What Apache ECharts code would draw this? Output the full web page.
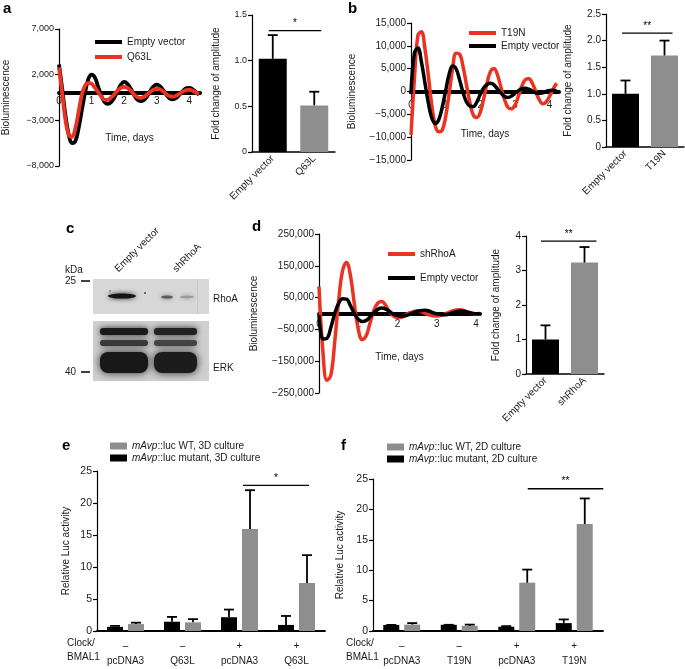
<!DOCTYPE html>
<html><head><meta charset="utf-8">
<script src="https://cdn.jsdelivr.net/npm/echarts@6.0.0/dist/echarts.min.js"></script>
<style>html,body{margin:0;padding:0;background:#fff}#c{width:685px;height:669px}</style>
</head><body><div id="c"></div>
<script>
// ---------- DATA ----------
const timeA = [0,0.1,0.2,0.3,0.4,0.5,0.6,0.7,0.8,0.9,1.0,1.1,1.2,1.3,1.4,1.5,1.6,1.7,1.8,1.9,2.0,2.1,2.2,2.3,2.4,2.5,2.6,2.7,2.8,2.9,3.0,3.1,3.2,3.3,3.4,3.5,3.6,3.7,3.8,3.9,4.0,4.1,4.2,4.3];
const emptyA = [3100,400,-2500,-4600,-5500,-5300,-3900,-1900,0,1500,2000,1700,700,-300,-1000,-1200,-1000,-500,200,900,1200,1000,500,-200,-700,-900,-800,-400,200,700,900,750,300,-200,-600,-700,-550,-200,200,500,550,400,100,-200];
const q63lA = [2800,-100,-3000,-4600,-4800,-3900,-2100,-200,800,1100,1000,600,100,-400,-750,-750,-500,-150,250,550,650,550,250,-150,-450,-550,-450,-200,100,350,450,400,150,-150,-350,-400,-300,-100,150,300,350,250,50,-100];

const timeB = [0,0.1,0.2,0.3,0.4,0.5,0.6,0.7,0.8,0.9,1.0,1.1,1.2,1.3,1.4,1.5,1.6,1.7,1.8,1.9,2.0,2.1,2.2,2.3,2.4,2.5,2.6,2.7,2.8,2.9,3.0,3.1,3.2,3.3,3.4,3.5,3.6,3.7,3.8,3.9,4.0,4.1,4.2];
const t19nB = [-9500,3000,12300,13100,9500,3500,-3000,-7500,-8800,-8500,-5500,-500,5000,8400,8200,5500,1500,-2500,-5200,-5700,-4500,-1500,2000,4500,5000,3500,800,-1800,-3500,-3800,-3000,-1000,1200,2600,2800,1800,0,-1800,-2700,-2300,-1000,500,1800];
const emptyB = [-500,8500,9500,6500,2000,-2500,-5800,-7000,-6200,-3500,200,3800,5600,5000,2600,-200,-2300,-3200,-3300,-2300,-600,800,1600,1800,1400,500,-400,-1100,-1300,-1000,-400,200,600,700,500,100,-300,-400,-300,0,200,250,100];

const timeD = [0,0.1,0.2,0.3,0.4,0.5,0.6,0.7,0.8,0.9,1.0,1.1,1.2,1.3,1.4,1.5,1.6,1.7,1.8,1.9,2.0,2.1,2.2,2.3,2.4,2.5,2.6,2.7,2.8,2.9,3.0,3.1,3.2,3.3,3.4,3.5,3.6,3.7,3.8,3.9,4.0,4.1];
const shRhoAD = [85000,-120000,-210000,-195000,-90000,40000,135000,160000,120000,30000,-50000,-82000,-70000,-30000,10000,33000,38000,25000,5000,-8000,-13000,-12000,-5000,2000,6000,8000,6000,1000,-4000,-7000,-8000,-6000,-2000,3000,8000,11000,12000,9000,4000,0,-2000,-1000];
const emptyD = [-5000,-80000,-78000,-45000,0,32000,46000,45000,25000,0,-18000,-25000,-22000,-10000,3000,13000,17000,14000,6000,-2000,-6000,-8000,-7000,-3000,2000,7000,9000,10000,8000,3000,-1000,-3000,-4000,-2000,2000,6000,8000,7000,4000,1000,-1000,0];

const ampCatsA = ['Empty vector','Q63L'];
const ampMeanA = [1.02, 0.51];
const ampErrA  = [1.28, 0.66];
const sigA = [[0,1,1.33]];

const ampCatsB = ['Empty vector','T19N'];
const ampMeanB = [1.0, 1.72];
const ampErrB  = [1.25, 2.0];
const sigB = [[0,1,2.14]];

const ampCatsD = ['Empty vector','shRhoA'];
const ampMeanD = [1.0, 3.23];
const ampErrD  = [1.41, 3.68];
const sigD = [[0,1,3.85]];

const catsE = ['pcDNA3','Q63L','pcDNA3','Q63L'];
const clockE = ['–','–','+','+'];
const mutE = [0.65, 1.45, 2.15, 0.95];
const mutErrE = [0.8, 2.2, 3.35, 2.35];
const wtE = [1.08, 1.35, 15.95, 7.5];
const wtErrE = [1.3, 1.85, 22.0, 11.85];
const sigE = [[2,3,22.75]];

const catsF = ['pcDNA3','T19N','pcDNA3','T19N'];
const clockF = ['–','–','+','+'];
const mutF = [1.0, 1.02, 0.7, 1.3];
const mutErrF = [1.0, 1.02, 0.8, 1.9];
const wtF = [1.05, 0.85, 7.95, 17.6];
const wtErrF = [1.3, 1.05, 10.1, 21.8];
const sigF = [[2,3,23.4]];

// ---------- STYLE / HELPERS ----------
const FONT = 'Liberation Sans, Arial, Helvetica, sans-serif';
const TXT = '#1a1a1a';
const RED = '#ea3323';
const GREY = '#8e8e8e';

const GRIDS = [
  {left:55, top:29, width:145, height:137},
  {left:252, top:15, width:83, height:137},
  {left:411, top:23, width:148, height:137},
  {left:606, top:14, width:78, height:133},
  {left:319, top:234, width:161, height:159},
  {left:526, top:236, width:78, height:138},
  {left:97, top:471, width:228, height:162},
  {left:373, top:479, width:230, height:153}
];

function commaFmt(v){ const s = Math.abs(v).toLocaleString('en-US'); return (v<0?'\u2212':'') + s; }
function dec1(v){ return v===0 ? '0' : v.toFixed(1); }
function intFmt(v){ return String(v); }

function yVal(grid, min, max, interval, fmt, fs, name, gap){
  return {type:'value', gridIndex:grid, min:min, max:max, interval:interval,
    name:name, nameLocation:'middle', nameGap:gap, nameRotate:90,
    nameTextStyle:{fontSize:10, color:TXT, fontFamily:FONT},
    axisLine:{show:true, onZero:false, lineStyle:{color:'#000', width:1.2}},
    axisTick:{show:true, length:4, lineStyle:{color:'#000', width:1.2}},
    axisLabel:{fontSize:fs, color:TXT, margin:5, fontFamily:FONT, formatter:fmt},
    splitLine:{show:false}};
}
// time axis placed at the y=0 level of its grid (offset derived from y-range)
function xTime(grid, max, ymin, ymax, margin, gap){
  const h = GRIDS[grid].height;
  const off = -((0 - ymin) / (ymax - ymin)) * h;
  return {type:'value', gridIndex:grid, min:0, max:max, interval:1, offset:off,
    name:'Time, days', nameLocation:'middle', nameGap:gap,
    nameTextStyle:{fontSize:10, color:TXT, fontFamily:FONT},
    axisLine:{show:true, onZero:false, lineStyle:{color:'#000', width:4}},
    axisTick:{show:false},
    axisLabel:{fontSize:10, color:TXT, margin:margin, fontFamily:FONT,
      formatter:function(v){ return Math.abs(v-Math.round(v))<1e-6 ? String(Math.round(v)) : ''; }},
    splitLine:{show:false}};
}
function xCatRot(grid, cats){
  return {type:'category', gridIndex:grid, data:cats,
    axisLine:{show:true, lineStyle:{color:'#000', width:1.5}},
    axisTick:{show:false},
    axisLabel:{rotate:45, fontSize:10, color:TXT, margin:5, fontFamily:FONT, interval:0}};
}
function xCatGroup(grid, cats, signs){
  return {type:'category', gridIndex:grid, data:cats,
    axisLine:{show:true, lineStyle:{color:'#000', width:1.8}},
    axisTick:{show:false},
    axisLabel:{fontSize:10, color:TXT, margin:8, lineHeight:15, fontFamily:FONT, interval:0,
      formatter:function(v,i){ return signs[i] + '\n' + v; }}};
}
function pairs(t, v){ return t.map(function(x,i){ return [x, v[i]]; }); }
function lineSeries(name, color, grid, t, v, w){
  return {name:name, type:'line', xAxisIndex:grid, yAxisIndex:grid, data:pairs(t,v),
    smooth:0.4, showSymbol:false, symbol:'none', color:color,
    lineStyle:{color:color, width:w}, z:3};
}
function errRender(offset, cap){
  return function(params, api){
    const x = api.value(0);
    const p0 = api.coord([x, api.value(1)]);
    const p1 = api.coord([x, api.value(2)]);
    const cx = p0[0] + offset;
    return {type:'group', children:[
      {type:'line', shape:{x1:cx, y1:p0[1], x2:cx, y2:p1[1]}, style:{stroke:'#000', lineWidth:1.8}},
      {type:'line', shape:{x1:cx-cap, y1:p1[1], x2:cx+cap, y2:p1[1]}, style:{stroke:'#000', lineWidth:1.8}}
    ]};
  };
}
function errSeries(grid, means, errs, offset, cap){
  return {type:'custom', xAxisIndex:grid, yAxisIndex:grid, clip:false, z:4,
    data: means.map(function(m,i){ return [i, m, errs[i]]; }),
    encode:{x:0, y:[1,2]}, renderItem:errRender(offset, cap), silent:true};
}
function sigSeries(grid, data, off1, off2, label){
  return {type:'custom', xAxisIndex:grid, yAxisIndex:grid, clip:false, z:4, data:data,
    encode:{x:[0,1], y:2}, silent:true,
    renderItem:function(params, api){
      const a = api.coord([api.value(0), api.value(2)]);
      const b = api.coord([api.value(1), api.value(2)]);
      const x1 = a[0]+off1, x2 = b[0]+off2;
      return {type:'group', children:[
        {type:'line', shape:{x1:x1, y1:a[1], x2:x2, y2:a[1]}, style:{stroke:'#000', lineWidth:1.3}},
        {type:'text', x:(x1+x2)/2, y:a[1]-2, style:{text:label, align:'center', verticalAlign:'bottom', fontSize:10, fill:'#000', fontFamily:FONT}}
      ]};
    }};
}
function barSeries(name, grid, vals, color, width, gap){
  const s = {name:name, type:'bar', xAxisIndex:grid, yAxisIndex:grid, data:vals,
    barWidth:width, itemStyle:{color:color}, z:2};
  if (gap) s.barGap = gap;
  return s;
}
function legendLine(names, left, top, gap){
  return {data:names, left:left, top:top, orient:'vertical', icon:'rect',
    itemWidth:27, itemHeight:4, itemGap:gap, selectedMode:false,
    textStyle:{fontSize:10, color:TXT, fontFamily:FONT}};
}
function legendBox(names, left, top){
  return {data:names, left:left, top:top, orient:'vertical', icon:'rect',
    itemWidth:17, itemHeight:7, itemGap:2, selectedMode:false,
    formatter:function(n){ return n.replace('mAvp', '{i|mAvp}'); },
    textStyle:{fontSize:10, color:TXT, fontFamily:FONT,
      rich:{i:{fontStyle:'italic', fontSize:10, color:TXT, fontFamily:FONT}}}};
}

const nameWT3 = 'mAvp::luc WT, 3D culture', nameMut3 = 'mAvp::luc mutant, 3D culture';
const nameWT2 = 'mAvp::luc WT, 2D culture', nameMut2 = 'mAvp::luc mutant, 2D culture';

function txt(x, y, s, opt){
  return Object.assign({type:'text', x:x, y:y, silent:true,
    style:Object.assign({text:s, fontSize:10, fill:TXT, fontFamily:FONT, align:'left', verticalAlign:'middle'}, opt||{})});
}
function letter(x, y, s){ return txt(x, y, s, {fontSize:15, fontWeight:'bold', fill:'#000'}); }

const blot = [
  {type:'rect', silent:true, shape:{x:93, y:279, width:116, height:35}, style:{fill:'#d7d7d7'}},
  {type:'rect', silent:true, shape:{x:197, y:279, width:1, height:35}, style:{fill:'#cacaca'}},
  {type:'ellipse', silent:true, shape:{cx:122, cy:296, rx:14, ry:2.6}, style:{fill:'#141414', shadowBlur:5, shadowColor:'rgba(0,0,0,0.8)'}},
  {type:'ellipse', silent:true, shape:{cx:167, cy:297, rx:6, ry:1.6}, style:{fill:'#5a5a5a', shadowBlur:4, shadowColor:'rgba(0,0,0,0.5)'}},
  {type:'ellipse', silent:true, shape:{cx:187, cy:297, rx:7, ry:1.2}, style:{fill:'#9a9a9a', shadowBlur:4, shadowColor:'rgba(0,0,0,0.3)'}},
  {type:'circle', silent:true, shape:{cx:110, cy:291, r:0.8}, style:{fill:'#555'}},
  {type:'circle', silent:true, shape:{cx:145, cy:293, r:1}, style:{fill:'#444'}},
  {type:'rect', silent:true, shape:{x:93, y:321, width:116, height:60}, style:{fill:'#cfcfcf'}},
  {type:'rect', silent:true, shape:{x:100, y:328, width:48, height:7, r:3}, style:{fill:'#1a1a1a', shadowBlur:6, shadowColor:'rgba(0,0,0,0.8)'}},
  {type:'rect', silent:true, shape:{x:154, y:328, width:43, height:7, r:3}, style:{fill:'#222', shadowBlur:6, shadowColor:'rgba(0,0,0,0.8)'}},
  {type:'rect', silent:true, shape:{x:100, y:340, width:48, height:6, r:3}, style:{fill:'#3a3a3a', shadowBlur:6, shadowColor:'rgba(0,0,0,0.6)'}},
  {type:'rect', silent:true, shape:{x:154, y:340, width:43, height:6, r:3}, style:{fill:'#444', shadowBlur:6, shadowColor:'rgba(0,0,0,0.6)'}},
  {type:'rect', silent:true, shape:{x:100, y:352, width:48, height:21, r:8}, style:{fill:'#181818', shadowBlur:8, shadowColor:'rgba(0,0,0,0.8)'}},
  {type:'rect', silent:true, shape:{x:154, y:352, width:43, height:21, r:8}, style:{fill:'#1c1c1c', shadowBlur:8, shadowColor:'rgba(0,0,0,0.8)'}},
  txt(65, 270, 'kDa', {fontSize:10}),
  txt(65, 281, '25', {fontSize:10}),
  {type:'line', silent:true, shape:{x1:81, y1:281, x2:90, y2:281}, style:{stroke:'#000', lineWidth:1.5}},
  txt(65, 372, '40', {fontSize:10}),
  {type:'line', silent:true, shape:{x1:81, y1:372, x2:90, y2:372}, style:{stroke:'#000', lineWidth:1.5}},
  txt(213, 299, 'RhoA', {fontSize:10}),
  txt(213, 368, 'ERK', {fontSize:10}),
  {type:'text', silent:true, x:120, y:274, rotation:Math.PI/4, style:{text:'Empty vector', fontSize:10, fill:TXT, fontFamily:FONT, align:'left', verticalAlign:'bottom'}},
  {type:'text', silent:true, x:178, y:274, rotation:Math.PI/4, style:{text:'shRhoA', fontSize:10, fill:TXT, fontFamily:FONT, align:'left', verticalAlign:'bottom'}}
];

const option = {
  animation:false,
  backgroundColor:'#fff',
  textStyle:{fontFamily:FONT},
  grid:GRIDS,
  xAxis:[
    xTime(0, 4.33, -8000, 7000, 3, 40),
    xCatRot(1, ampCatsA),
    xTime(2, 4.27, -15000, 15000, 9, 38),
    xCatRot(3, ampCatsB),
    xTime(4, 4.1, -250000, 250000, 6, 39),
    xCatRot(5, ampCatsD),
    xCatGroup(6, catsE, clockE),
    xCatGroup(7, catsF, clockF)
  ],
  yAxis:[
    yVal(0, -8000, 7000, 5000, commaFmt, 9, 'Bioluminescence', 48),
    yVal(1, 0, 1.5, 0.5, dec1, 9, 'Fold change of amplitude', 31),
    yVal(2, -15000, 15000, 5000, commaFmt, 10, 'Bioluminescence', 54),
    yVal(3, 0, 2.5, 0.5, dec1, 10, 'Fold change of amplitude', 33),
    yVal(4, -250000, 250000, 100000, commaFmt, 10, 'Bioluminescence', 60),
    yVal(5, 0, 4, 1, intFmt, 10, 'Fold change of amplitude', 25),
    yVal(6, 0, 25, 5, intFmt, 10.5, 'Relative Luc activity', 26),
    yVal(7, 0, 25, 5, intFmt, 10.5, 'Relative Luc activity', 28)
  ],
  legend:[
    legendLine(['Empty vector','Q63L'], 90, 32, 5),
    legendLine(['T19N','Empty vector'], 464, 23, 3),
    legendLine(['shRhoA','Empty vector'], 383, 244, 14),
    legendBox([nameWT3, nameMut3], 105, 436),
    legendBox([nameWT2, nameMut2], 382, 437)
  ],
  series:[
    lineSeries('Empty vector', '#000', 0, timeA, emptyA, 3.8),
    lineSeries('Q63L', RED, 0, timeA, q63lA, 3.8),
    barSeries('a-amp', 1, ampMeanA.map(function(v,i){ return {value:v, itemStyle:{color: i===0 ? '#000' : GREY}}; }), '#000', 28),
    errSeries(1, ampMeanA, ampErrA, 0, 5),
    sigSeries(1, sigA, -4, 7, '*'),

    lineSeries('T19N', RED, 2, timeB, t19nB, 3.5),
    lineSeries('Empty vector', '#000', 2, timeB, emptyB, 3.5),
    barSeries('b-amp', 3, ampMeanB.map(function(v,i){ return {value:v, itemStyle:{color: i===0 ? '#000' : GREY}}; }), '#000', 27),
    errSeries(3, ampMeanB, ampErrB, 0, 5),
    sigSeries(3, sigB, -3.5, 8, '**'),

    lineSeries('shRhoA', RED, 4, timeD, shRhoAD, 3.5),
    lineSeries('Empty vector', '#000', 4, timeD, emptyD, 3.5),
    barSeries('d-amp', 5, ampMeanD.map(function(v,i){ return {value:v, itemStyle:{color: i===0 ? '#000' : GREY}}; }), '#000', 27),
    errSeries(5, ampMeanD, ampErrD, 0, 5),
    sigSeries(5, sigD, -4.5, 12, '**'),

    barSeries(nameMut3, 6, mutE, '#000', 16, '31%'),
    barSeries(nameWT3, 6, wtE, GREY, 16, '31%'),
    errSeries(6, mutE, mutErrE, -10.5, 5),
    errSeries(6, wtE, wtErrE, 10.5, 5),
    sigSeries(6, sigE, 3.5, 12.5, '*'),

    barSeries(nameMut2, 7, mutF, '#000', 16, '31%'),
    barSeries(nameWT2, 7, wtF, GREY, 16, '31%'),
    errSeries(7, mutF, mutErrF, -10.5, 5),
    errSeries(7, wtF, wtErrF, 10.5, 5),
    sigSeries(7, sigF, 11, 29, '**')
  ],
  graphic:[
    letter(3, 9, 'a'),
    letter(348, 9, 'b'),
    letter(66, 229, 'c'),
    letter(252, 227, 'd'),
    letter(62, 446, 'e'),
    letter(341, 446, 'f'),
    txt(67, 643, 'Clock/'),
    txt(67, 657, 'BMAL1'),
    txt(346, 643, 'Clock/'),
    txt(346, 657, 'BMAL1')
  ].concat(blot)
};

const chart = echarts.init(document.getElementById('c'), null, {renderer:'canvas'});
chart.setOption(option);
</script>
</body></html>
